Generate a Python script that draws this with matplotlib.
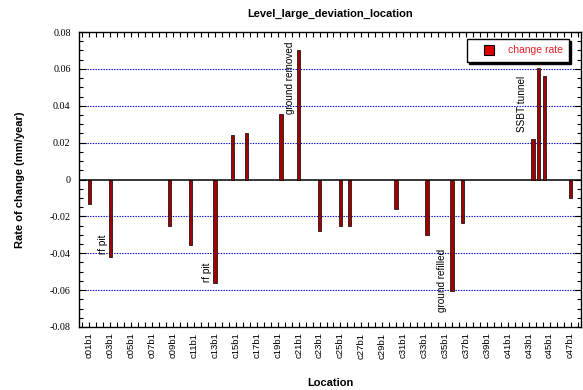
import matplotlib
matplotlib.use("Agg")
import matplotlib.pyplot as plt
from matplotlib.lines import Line2D
from matplotlib.ticker import MultipleLocator, FixedLocator, FuncFormatter

# ---- data ----
tick_labels = ["c%02db1" % n for n in range(1, 48, 2)]
tick_rows = list(range(1, 71, 3))
bar_rows = [1, 4, 12.5, 15.5, 19, 21.5, 23.5, 28.5, 31, 34, 37, 38.3, 45, 49.4,
            53, 54.5, 64.6, 65.4, 66.3, 70]
rates = [-0.0135, -0.0423, -0.0252, -0.0355, -0.0564, 0.0243, 0.0252, 0.0355,
         0.0703, -0.0279, -0.0252, -0.0252, -0.0162, -0.0303, -0.0604, -0.0234,
         0.0222, 0.0607, 0.0564, -0.0103]
notes = ["rf pit", "rf pit", "ground removed", "ground refilled", "SSBT tunnel"]
note_x = [2.9, 17.8, 29.8, 51.6, 63.0]
note_y = [-0.0351, -0.0503, 0.0551, -0.0546, 0.0411]
series_name = "change rate"

fig = plt.figure(figsize=(5.83, 3.90), dpi=100)
ax = fig.add_axes([79/583, 1-327/390, (581-79)/583, (327-32)/390])

ax.bar(bar_rows, rates, width=0.5, color="#a00000", edgecolor="black",
       linewidth=0.5, zorder=3)

ax.set_xlim(-0.5, 71.5)
ax.set_ylim(-0.08, 0.08)

for g in [-0.06, -0.04, -0.02, 0.02, 0.04, 0.06]:
    ax.axhline(g, color="#0000cc", linestyle=(0, (1.2, 1.2)), linewidth=0.8, zorder=1)
ax.axhline(0, color="black", linewidth=1.1, zorder=2)

ax.yaxis.set_major_locator(MultipleLocator(0.02))
ax.yaxis.set_minor_locator(MultipleLocator(0.005))
ax.yaxis.set_major_formatter(FuncFormatter(
    lambda v, p: "0" if abs(v) < 1e-9 else ("%.2f" % v)))
ax.tick_params(axis="y", which="both", direction="in", right=True, left=True,
               labelfontfamily="Liberation Serif", labelsize=7.3, pad=6)
ax.tick_params(axis="y", which="major", length=5, width=0.8)
ax.tick_params(axis="y", which="minor", length=3, width=0.8)

ax.xaxis.set_major_locator(FixedLocator(tick_rows))
ax.set_xticklabels(tick_labels, rotation=90, fontsize=6.8,
                   fontfamily="Liberation Sans")
ax.xaxis.set_minor_locator(MultipleLocator(1))
ax.tick_params(axis="x", which="both", direction="in", top=True, bottom=True,
               length=3.5, width=0.8, pad=4)

for s in ax.spines.values():
    s.set_linewidth(1.0)

for t, x, y in zip(notes, note_x, note_y):
    ax.text(x, y, t, rotation=90, ha="center", va="center", fontsize=7.2,
            fontfamily="Liberation Sans", zorder=4)

ax.set_title("Level_large_deviation_location", fontsize=8, fontweight="bold",
             fontfamily="Liberation Sans", pad=11)
ax.set_ylabel("Rate of change (mm/year)", fontsize=8, fontweight="bold",
              fontfamily="Liberation Sans", labelpad=18)
ax.set_xlabel("Location", fontsize=8, fontweight="bold",
              fontfamily="Liberation Sans", labelpad=14)

handle = Line2D([], [], linestyle="none", marker="s", markersize=7,
                markerfacecolor="#dd0000", markeredgecolor="black",
                markeredgewidth=0.8)
leg = ax.legend([handle], [series_name], loc="upper right",
                prop={"family": "Liberation Sans", "size": 7.5},
                frameon=True, fancybox=False,
                shadow={"color": "black", "alpha": 1, "ox": 1.5, "oy": -1.5},
                handlelength=3.0, borderpad=0.6,
                handletextpad=0.3, borderaxespad=0)
leg.set_bbox_to_anchor((569/583, 1-39/390), transform=fig.transFigure)
leg.get_frame().set_edgecolor("black")
leg.get_frame().set_linewidth(1.0)
for txt in leg.get_texts():
    txt.set_color("#e8202a")

fig.savefig("out.png", dpi=100)
